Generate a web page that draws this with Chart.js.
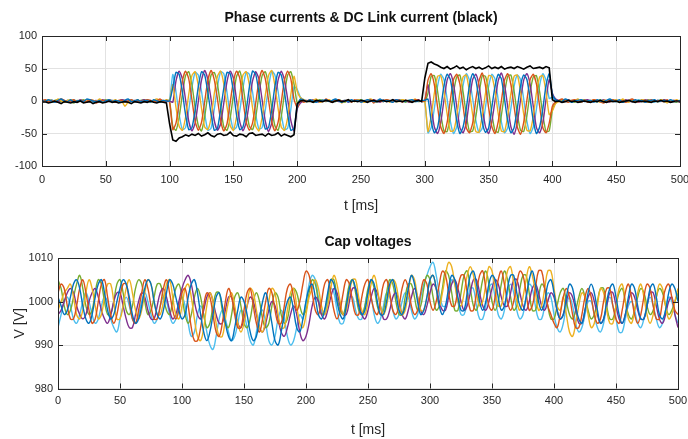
<!DOCTYPE html>
<html lang="en">
<head>
<meta charset="UTF-8">
<title>Phase currents &amp; Cap voltages</title>
<script src="https://cdn.jsdelivr.net/npm/chart.js"></script>
<style>
  body { margin: 0; background: #fff; }
  canvas { position: absolute; left: 0; }
</style>
</head>
<body>
<canvas id="currents" width="688" height="222" style="top:0"></canvas>
<canvas id="voltages" width="688" height="217" style="top:222px"></canvas>

<script>
// time axis [ms], 2.5 ms samples
const tMs = [
  0,2.5,5,7.5,10,12.5,15,17.5,20,22.5,25,27.5,30,32.5,35,37.5,40,42.5,45,47.5,
  50,52.5,55,57.5,60,62.5,65,67.5,70,72.5,75,77.5,80,82.5,85,87.5,90,92.5,95,97.5,
  100,102.5,105,107.5,110,112.5,115,117.5,120,122.5,125,127.5,130,132.5,135,137.5,140,142.5,145,147.5,
  150,152.5,155,157.5,160,162.5,165,167.5,170,172.5,175,177.5,180,182.5,185,187.5,190,192.5,195,197.5,
  200,202.5,205,207.5,210,212.5,215,217.5,220,222.5,225,227.5,230,232.5,235,237.5,240,242.5,245,247.5,
  250,252.5,255,257.5,260,262.5,265,267.5,270,272.5,275,277.5,280,282.5,285,287.5,290,292.5,295,297.5,
  300,302.5,305,307.5,310,312.5,315,317.5,320,322.5,325,327.5,330,332.5,335,337.5,340,342.5,345,347.5,
  350,352.5,355,357.5,360,362.5,365,367.5,370,372.5,375,377.5,380,382.5,385,387.5,390,392.5,395,397.5,
  400,402.5,405,407.5,410,412.5,415,417.5,420,422.5,425,427.5,430,432.5,435,437.5,440,442.5,445,447.5,
  450,452.5,455,457.5,460,462.5,465,467.5,470,472.5,475,477.5,480,482.5,485,487.5,490,492.5,495,497.5,
  500
];

// phase currents [A]
const iBlue = [
  1,-1,2,0,-2,1,3,0,-1,2,-2,0,1,-1,3,2,0,-1,1,-2,0,2,-1,1,0,-2,1,3,-1,0,2,-1,0,1,-2,2,0,-1,1,0,
  0,21,44,41,14,-21,-44,-41,-14,22,45,40,13,-20,-45,-42,-13,20,44,42,15,-22,-44,-40,-15,21,46,41,13,-21,-43,-41,-14,22,44,40,14,-20,-45,-42,
  -8,3,1,-1,2,0,-2,1,0,2,-1,1,3,0,-2,1,-1,2,0,1,-2,0,2,1,-1,0,3,-1,1,0,-2,2,1,-1,0,1,2,-1,0,1,
  1,3,-31,-49,-41,-11,23,41,33,4,-30,-50,-40,-12,24,42,32,2,-32,-48,-42,-10,22,41,34,3,-31,-49,-41,-11,23,40,33,4,-30,-50,-40,-12,24,42,
  10,2,0,-1,3,1,-2,0,1,2,-1,0,1,-2,2,0,-1,1,3,0,-1,2,-2,0,1,-1,2,0,1,-2,0,1,2,-1,0,1,-1,2,0,-1,1
];
const iRed = [
  0,2,-1,1,-2,0,3,1,-1,0,2,-2,1,0,-1,2,1,-3,0,1,-1,2,0,-2,1,1,-1,0,2,-1,1,-2,0,2,1,-1,0,3,-1,1,
  -2,-44,-34,-2,31,46,34,2,-31,-45,-33,-1,32,47,33,3,-30,-46,-35,-2,30,46,35,1,-32,-45,-34,-3,31,47,34,2,-31,-46,-33,-2,32,46,34,3,
  -10,1,-2,0,2,-1,1,0,-1,3,0,-2,1,2,-1,0,1,-2,2,0,-1,1,0,2,-3,1,0,-1,2,1,-1,0,2,-2,1,0,-1,2,1,0,
  0,32,42,25,-9,-40,-50,-33,1,33,41,26,-8,-41,-49,-34,2,31,43,24,-10,-39,-50,-32,0,32,42,25,-9,-40,-51,-33,1,33,41,26,-8,-41,-49,-34,
  -8,-1,1,3,0,-2,1,2,-1,0,1,-2,0,2,1,-1,-3,0,1,2,-1,1,0,-2,1,3,0,-1,1,-2,0,2,-1,1,0,-1,2,-2,1,0,-1
];
const iYellow = [
  -1,0,2,1,-1,3,0,-2,1,2,0,-1,1,-2,2,0,1,-1,3,0,-2,1,0,2,-1,0,-8,-2,1,0,2,-1,0,1,-2,1,3,0,-1,2,
  1,25,-10,-39,-45,-25,10,39,45,24,-11,-40,-44,-26,11,38,46,26,-9,-38,-45,-24,10,40,45,25,-10,-39,-46,-25,9,39,47,24,-11,-40,-45,-26,10,38,
  15,5,2,0,-1,1,3,-2,0,1,2,-1,0,2,-3,1,0,1,-1,2,0,-2,1,3,0,-1,1,0,2,-2,1,0,-1,2,1,-1,0,3,-1,0,
  -1,-47,-23,12,38,39,15,-20,-46,-46,-24,13,37,40,14,-21,-47,-48,-22,11,39,38,16,-19,-46,-47,-23,12,38,40,15,-20,-45,-46,-24,13,37,39,14,-21,
  -15,-4,-1,0,2,1,-1,0,3,-2,1,0,-1,2,0,-2,1,1,-1,0,2,-1,3,0,-2,1,0,-1,2,1,-2,0,1,-1,2,0,-3,1,0,2,-1
];
const iPurple = [
  2,0,-1,1,0,-2,2,1,-1,0,1,-1,2,0,-2,1,0,1,-1,2,0,-1,1,-2,0,2,1,-1,0,1,-2,0,2,-1,1,0,-1,2,0,-1,
  0,-2,31,46,34,2,-31,-46,-34,-1,32,47,33,3,-30,-45,-35,-3,30,46,35,1,-32,-46,-33,-2,31,45,34,2,-31,-47,-34,-1,32,46,33,3,-30,-46,
  -12,-3,0,1,-1,2,0,-2,1,0,1,-1,2,-1,0,1,-2,1,0,2,-1,0,1,-1,2,0,-2,1,1,-1,0,2,0,-1,1,-2,0,1,2,-1,
  1,25,-9,-40,-50,-33,1,32,42,26,-8,-41,-49,-34,2,33,41,24,-10,-39,-50,-32,0,31,43,25,-9,-40,-51,-33,1,32,42,26,-8,-41,-49,-34,2,33,
  12,3,1,-1,0,2,-1,1,0,-2,1,2,0,-1,1,-1,2,0,-2,1,0,1,-1,2,0,-1,1,-2,0,2,1,-1,0,1,-1,2,0,-1,1,0,-2
];
const iGreen = [
  -1,1,0,-2,1,2,-1,0,1,-1,-3,1,0,2,-1,0,1,-2,1,0,2,-1,0,1,-1,2,0,-2,1,0,-1,1,2,0,-1,1,-2,0,1,0,
  -1,-39,-45,-25,10,39,45,25,-10,-38,-46,-24,11,40,44,26,-9,-40,-45,-26,9,38,46,24,-11,-39,-44,-25,10,39,45,25,-10,-38,-45,-24,11,40,45,26,
  -3,2,0,-1,1,-2,0,2,1,-1,0,1,-1,2,0,-2,1,0,-1,1,2,-1,0,1,-2,0,1,-1,2,0,1,-1,0,2,-2,1,0,-1,1,0,
  -1,12,38,39,15,-20,-46,-47,-23,13,37,40,14,-21,-47,-46,-24,11,39,38,16,-19,-46,-48,-22,12,38,40,15,-20,-45,-47,-23,13,37,39,14,-21,-47,-46,
  -14,-3,0,1,-1,2,0,-2,1,0,2,-1,1,0,-1,2,-2,0,1,1,-1,0,2,-1,0,1,-2,1,0,-1,2,0,1,-1,0,2,-1,1,0,-2,1
];
const iCyan = [
  1,-1,0,2,-1,1,0,-2,1,0,2,-1,1,0,-1,2,-2,0,1,-1,0,2,1,-1,0,-2,1,0,2,-1,0,1,-1,2,0,-1,1,-2,0,1,
  2,41,14,-21,-44,-41,-14,21,44,40,15,-20,-45,-42,-13,22,45,42,13,-22,-44,-40,-15,20,44,41,14,-21,-43,-41,-14,21,46,40,15,-20,-44,-42,-13,22,
  18,6,2,0,-1,1,-2,0,2,-1,1,0,-1,2,0,1,-2,0,1,-1,2,0,-1,1,0,-2,2,1,-1,0,1,-1,2,0,-2,1,0,1,-1,0,
  0,-49,-41,-11,23,41,33,3,-31,-50,-40,-12,24,42,32,4,-30,-48,-42,-10,22,41,34,2,-32,-49,-41,-11,23,40,33,3,-31,-50,-40,-12,24,42,32,4,
  6,1,-1,2,0,-2,1,0,-1,2,1,-1,0,1,-2,2,0,-1,1,0,2,-1,-2,1,0,1,-1,2,0,-1,1,0,-2,1,2,-1,0,1,-1,0,1
];
// DC link current [A]
const iDC = [
  -2,-1,-3,-2,0,-2,-4,-1,-2,-3,-1,-2,0,-3,-2,-1,-4,-2,-1,-3,-2,0,-2,-1,-3,-2,-1,-2,-4,-1,-2,-3,-1,-2,0,-2,-3,-1,-2,-3,
  -35,-60,-62,-57,-55,-52,-54,-51,-53,-50,-54,-52,-49,-53,-55,-51,-50,-53,-52,-48,-53,-54,-51,-52,-55,-50,-49,-53,-52,-51,-54,-50,-53,-52,-49,-54,-51,-53,-55,-52,
  -4,0,1,-1,0,-2,1,0,-1,1,0,-2,0,1,-1,0,2,-1,0,-1,1,0,-2,0,1,-1,0,1,-1,0,2,-1,0,-1,1,0,-2,0,1,-1,
  35,58,60,57,55,52,50,53,49,51,54,50,52,48,51,53,50,52,49,51,54,50,52,50,53,49,51,52,50,53,51,49,52,54,50,51,52,50,53,51,
  2,-1,0,-2,-1,1,-1,0,-2,-1,0,-1,-2,0,-1,1,-1,-2,0,-1,0,-2,-1,0,1,-1,-2,0,-1,0,-1,-2,0,-1,1,-1,0,-2,-1,0,-1
];

// capacitor voltages [V]
const vBlue = [
  1001,999,997,998,1001,1004,1005,1003,999,996,995,997,1001,1004,1005,1002,998,996,997,1000,1003,1005,1004,1001,997,995,996,999,1003,1005,1004,1000,997,996,998,1002,1005,1004,1001,998,
  996,997,1001,1004,1005,1002,997,993,991,993,997,1001,1002,999,995,992,991,994,998,1001,1000,997,993,991,992,996,1000,1002,999,995,991,990,993,997,1000,1001,998,994,993,996,
  1000,1003,1004,1001,997,996,998,1002,1005,1004,1000,997,996,999,1003,1005,1003,999,997,998,1002,1005,1004,1000,997,997,1000,1004,1005,1002,998,997,999,1003,1006,1004,1000,997,998,1001,
  1005,1006,1003,999,997,999,1003,1006,1005,1001,998,998,1002,1006,1007,1004,1000,998,1000,1004,1006,1005,1001,998,999,1003,1006,1006,1002,999,998,1001,1005,1007,1004,1000,998,1000,1004,1005,
  1002,998,996,997,1001,1004,1003,999,996,995,998,1002,1004,1002,998,995,996,1000,1003,1004,1001,997,995,997,1001,1004,1003,999,996,996,999,1003,1004,1001,997,996,998,1002,1004,1003,1000
];
const vRed = [
  1002,1004,1003,999,996,996,999,1003,1005,1002,998,995,996,1000,1004,1005,1001,997,995,997,1001,1004,1004,1000,996,995,998,1002,1005,1003,999,996,996,999,1003,1005,1002,998,996,
  998,1002,1003,999,994,991,991,994,999,1002,1001,997,993,992,995,1000,1003,1001,997,994,994,998,1002,1003,999,995,993,996,1000,1003,1002,998,995,995,999,1003,1004,1001,998,1000,
  1004,1007,1006,1002,998,997,1000,1004,1005,1002,998,996,998,1002,1005,1004,1000,997,997,1001,1004,1005,1001,998,997,1000,1004,1005,1002,998,997,999,1003,1005,1003,999,997,998,1002,1005,
  1004,1000,998,1000,1004,1007,1006,1002,999,999,1003,1006,1006,1002,998,998,1002,1006,1007,1003,999,998,1001,1005,1007,1004,1000,998,1000,1004,1007,1006,1002,998,999,1003,1007,1007,1003,999,
  997,995,994,997,1001,1003,1001,997,994,994,997,1001,1003,1001,997,995,996,1000,1003,1003,999,996,995,998,1002,1004,1001,997,995,997,1001,1004,1003,999,996,996,1000,1003,1004,1001,998,997
];
const vYellow = [
  998,1000,1002,
  1003,1004,1001,997,996,998,1002,1005,1003,999,996,997,1001,1004,1004,1000,996,996,999,1003,1005,1002,998,996,998,1002,1005,1004,1000,997,997,1000,1004,1005,1001,997,996,999,1003,1004,
  1001,996,992,991,994,999,1002,1000,995,992,992,996,1000,1002,999,995,993,995,999,1003,1002,998,994,993,996,1000,1003,1002,997,994,994,998,1002,1003,999,995,994,997,1001,1003,
  1005,1003,999,997,999,1003,1006,1004,1000,997,998,1002,1005,1005,1001,998,997,1000,1004,1006,1003,999,997,999,1003,1005,1004,1000,997,998,1002,1006,1005,1001,998,998,1001,1005,1006,1003,
  999,1002,1006,1009,1008,1004,1000,999,1002,1006,1008,1006,1002,999,1000,1004,1008,1007,1003,999,999,1003,1007,1008,1004,1000,998,1001,1005,1008,1006,1002,998,999,1003,1007,1007,1003,999,998,
  1001,997,993,992,995,999,1002,1001,997,994,995,999,1003,1002,998,995,995,999,1003,1004,1000,996,995,998,1002,1004,1001,997,995,997,1001,1004,1003,999,996,997,1000,1003
];
const vPurple = [
  997,998,1000,1002,1003,1002,999,997,996,997,1000,1002,1003,1001,998,996,995,997,1000,1002,1002,999,996,994,994,997,1000,1002,1001,998,996,996,999,1002,1003,1001,998,996,997,1000,
  1003,1005,1006,1004,1000,997,996,998,1001,1002,1000,997,995,995,998,1001,1001,998,995,994,996,999,1001,1000,997,994,993,995,998,1000,999,996,993,992,994,997,999,997,993,991,
  992,995,999,1001,1000,997,996,998,1001,1003,1002,999,997,997,1000,1003,1003,1000,997,996,998,1001,1003,1002,999,996,996,998,1001,1002,1000,997,996,998,1001,1003,1001,998,997,999,
  1002,1004,1003,1000,998,998,1001,1004,1005,1003,1000,998,999,1002,1005,1005,1002,999,998,1000,1003,1005,1004,1001,999,999,1002,1005,1005,1002,999,998,1000,1003,1004,1002,999,998,1000,1002,
  1001,998,996,997,1000,1002,1001,998,995,995,998,1001,1002,1000,997,995,996,999,1002,1002,999,996,995,997,1000,1002,1001,998,996,996,999,1002,1002,999,996,995,997,1000,1001,997,994
];
const vGreen = [
  1005,1003,999,997,998,1001,1004,1006,1003,999,997,998,1002,1005,1004,1000,997,997,1000,1004,1005,1002,998,997,999,1003,1005,1004,1000,997,998,1001,1004,1004,1001,998,997,1000,
  1003,1004,1001,997,995,997,1001,1003,1001,997,994,995,999,1002,1002,998,995,994,997,1001,1002,999,995,994,996,1000,1002,1000,996,994,995,999,1002,1001,997,995,996,1000,1003,1002,
  999,997,998,1002,1005,1004,1000,997,998,1001,1005,1005,1001,998,997,1000,1004,1005,1002,998,997,999,1003,1005,1003,999,997,998,1002,1005,1004,1000,997,997,1001,1004,1004,1001,998,999,
  1003,1006,1005,1001,998,999,1003,1007,1006,1002,998,998,1002,1006,1007,1003,999,998,1001,1005,1007,1004,1000,998,1000,1004,1007,1005,1001,998,999,1003,1006,1006,1002,998,998,1001,1004,1003,
  999,996,996,999,1002,1003,1000,997,996,998,1001,1003,1001,998,996,997,1000,1003,1003,999,996,996,999,1002,1003,1000,997,996,998,1001,1003,1002,999,997,998,1001,1003,1002,999,997,998,
  1000,1002
];
const vCyan = [
  994,997,1000,1001,999,996,995,997,1000,1002,1000,997,995,996,999,1001,1000,996,994,993,996,999,1001,999,996,995,997,1000,1002,1000,997,995,996,999,1001,1000,997,995,996,999,
  1001,999,995,992,993,997,999,997,993,990,989,992,996,998,996,993,991,992,995,998,997,994,991,990,993,997,998,995,991,990,992,996,998,996,992,990,991,994,997,996,
  1000,1004,1006,1005,1001,998,997,1000,1003,1002,998,995,995,998,1001,1001,998,996,996,999,1002,1001,997,995,996,999,1002,1001,998,996,997,1000,1002,1001,998,996,997,1001,1004,1006,
  1008,1009,1006,1002,999,999,1002,1005,1004,1000,997,997,1000,1003,1003,999,996,996,999,1003,1004,1001,997,996,998,1002,1004,1002,998,996,997,1001,1004,1003,999,996,996,999,1002,1001,
  997,994,993,995,999,1001,999,995,993,994,997,1000,1000,997,994,993,995,999,1001,999,996,993,993,996,999,1000,998,995,994,996,999,1001,999,996,994,995,998,1001,1000,997,995
];

const colors = ['#0072BD', '#D95319', '#EDB120', '#7E2F8E', '#77AC30', '#4DBEEE'];
const axisColor = '#262626';
const gridColor = '#e2e2e2';
const fontFamily = "'Liberation Sans', Arial, Helvetica, sans-serif";

function toPoints(values) {
  return tMs.map((t, i) => ({ x: t, y: values[i] }));
}

function line(values, color, width, tension) {
  return {
    data: toPoints(values),
    borderColor: color,
    borderWidth: width,
    pointRadius: 0,
    tension: tension,
    fill: false
  };
}

// MATLAB style box with inward ticks on all four sides
const boxTicks = {
  id: 'boxTicks',
  afterDatasetsDraw(chart) {
    const { ctx, chartArea: a, scales: { x, y } } = chart;
    ctx.save();
    ctx.strokeStyle = axisColor;
    ctx.lineWidth = 1;
    ctx.beginPath();
    x.ticks.forEach(tk => {
      const px = Math.round(x.getPixelForValue(tk.value)) + 0.5;
      ctx.moveTo(px, a.bottom); ctx.lineTo(px, a.bottom - 5);
      ctx.moveTo(px, a.top); ctx.lineTo(px, a.top + 5);
    });
    y.ticks.forEach(tk => {
      const py = Math.round(y.getPixelForValue(tk.value)) + 0.5;
      ctx.moveTo(a.left, py); ctx.lineTo(a.left + 5, py);
      ctx.moveTo(a.right, py); ctx.lineTo(a.right - 5, py);
    });
    ctx.stroke();
    ctx.strokeRect(Math.round(a.left) + 0.5, Math.round(a.top) + 0.5,
      Math.round(a.right - a.left), Math.round(a.bottom - a.top));
    ctx.restore();
  }
};

function makeOptions(cfg) {
  return {
    responsive: false,
    animation: false,
    layout: { padding: { left: 0, right: cfg.padRight, top: 0, bottom: 0 } },
    plugins: {
      legend: { display: false },
      tooltip: { enabled: false },
      title: {
        display: true,
        text: cfg.title,
        fullSize: false,
        color: '#111',
        font: { family: fontFamily, size: 14, weight: 'bold' },
        padding: { top: cfg.titleTop, bottom: 19.2 - cfg.titleTop }
      }
    },
    scales: {
      x: {
        type: 'linear',
        min: 0, max: 500,
        ticks: { stepSize: 50, padding: cfg.xTickPad, color: axisColor, font: { family: fontFamily, size: 11 },
                 maxRotation: 0, callback: v => String(v) },
        grid: { color: gridColor, drawTicks: false },
        border: { display: false },
        title: { display: true, text: 't [ms]', color: axisColor,
                 font: { family: fontFamily, size: 14 }, padding: { top: 0, bottom: cfg.xTitlePad } },
        afterFit(s) { s.height = cfg.xHeight; s.paddingLeft = 0; s.paddingRight = 0; }
      },
      y: {
        min: cfg.yMin, max: cfg.yMax,
        ticks: { stepSize: cfg.yStep, padding: 5, color: axisColor, font: { family: fontFamily, size: 11 },
                 callback: v => String(v) },
        grid: { color: gridColor, drawTicks: false },
        border: { display: false },
        title: cfg.yTitle ? { display: true, text: cfg.yTitle, color: axisColor,
                 font: { family: fontFamily, size: 14 }, padding: { top: 12, bottom: 0 } } : { display: false },
        afterFit(s) { s.width = cfg.yWidth; s.paddingTop = 0; s.paddingBottom = 0; }
      }
    }
  };
}

new Chart(document.getElementById('currents'), {
  type: 'line',
  data: {
    datasets: [
      line(iDC, '#000000', 1.6, 0),
      line(iBlue, colors[0], 1.4, 0.2),
      line(iRed, colors[1], 1.4, 0.2),
      line(iYellow, colors[2], 1.4, 0.2),
      line(iPurple, colors[3], 1.4, 0.2),
      line(iGreen, colors[4], 1.4, 0.2),
      line(iCyan, colors[5], 1.4, 0.2)
    ]
  },
  options: makeOptions({
    title: 'Phase currents & DC Link current (black)', titleTop: 10,
    padRight: 8, yWidth: 42, xHeight: 56, xTickPad: 7, xTitlePad: 7,
    yMin: -100, yMax: 100, yStep: 50, yTitle: null
  }),
  plugins: [boxTicks]
});

new Chart(document.getElementById('voltages'), {
  type: 'line',
  data: {
    datasets: [
      line(vBlue, colors[0], 1.4, 0.4),
      line(vRed, colors[1], 1.4, 0.4),
      line(vYellow, colors[2], 1.4, 0.4),
      line(vPurple, colors[3], 1.4, 0.4),
      line(vGreen, colors[4], 1.4, 0.4),
      line(vCyan, colors[5], 1.4, 0.4)
    ]
  },
  options: makeOptions({
    title: 'Cap voltages', titleTop: 12,
    padRight: 10, yWidth: 58, xHeight: 50.5, xTickPad: 6, xTitlePad: 0,
    yMin: 980, yMax: 1010, yStep: 10, yTitle: 'V [V]'
  }),
  plugins: [boxTicks]
});
</script>
</body>
</html>
